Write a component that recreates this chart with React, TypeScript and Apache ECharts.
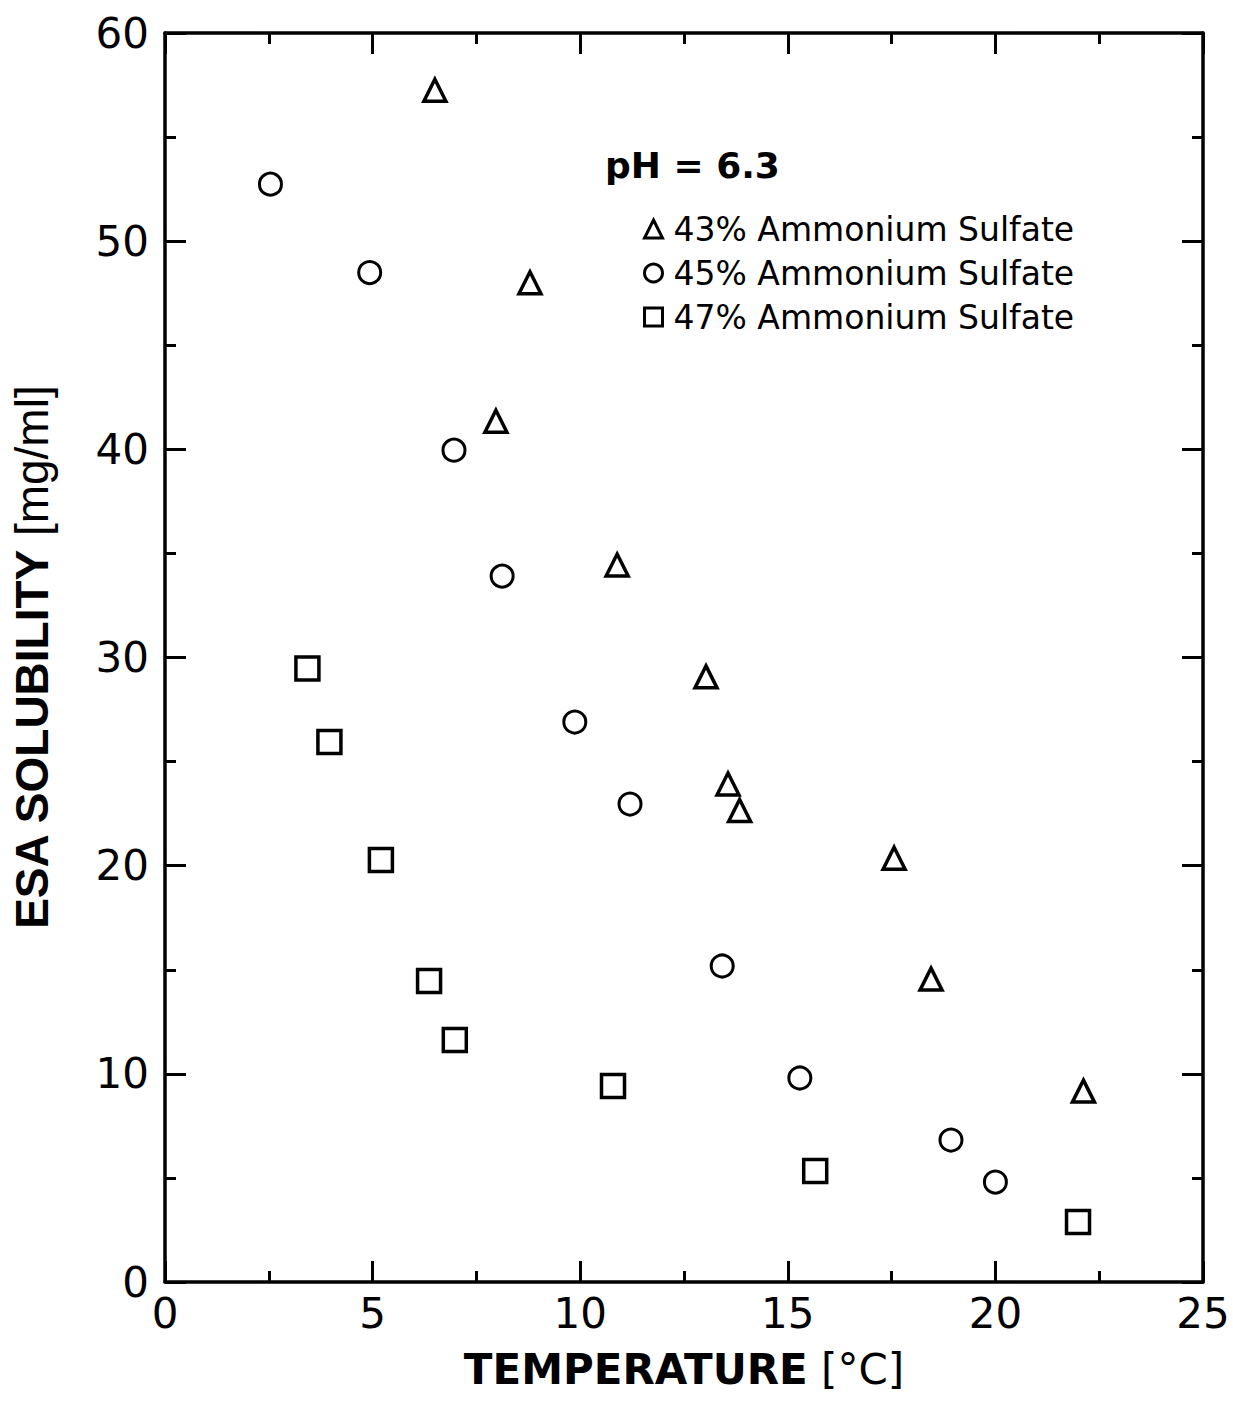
import React, { useEffect, useRef } from "react";
import * as echarts from "echarts";

const tri43X = [6.5, 8.79, 7.97, 10.89, 13.03, 13.56, 13.84, 17.56, 18.45, 22.12];
const tri43Y = [57.25, 48.0, 41.35, 34.44, 29.07, 23.92, 22.65, 20.36, 14.55, 9.17];

const circ45X = [2.54, 4.93, 6.96, 8.12, 9.87, 11.2, 13.42, 15.29, 18.93, 20.0];
const circ45Y = [52.74, 48.49, 39.96, 33.91, 26.9, 22.96, 15.18, 9.8, 6.82, 4.8];

const sq47X = [3.43, 3.96, 5.2, 6.36, 6.98, 10.79, 15.66, 21.99];
const sq47Y = [29.47, 25.94, 20.27, 14.46, 11.62, 9.41, 5.33, 2.88];

const seriesNames = ["43% Ammonium Sulfate", "45% Ammonium Sulfate", "47% Ammonium Sulfate"];
const xTicks = { min: 0, max: 25, interval: 5 };
const yTicks = { min: 0, max: 60, interval: 10 };

const pair = (xs: number[], ys: number[]) => xs.map((x, i) => [x, ys[i]]);

export default function App() {
  const ref = useRef<HTMLDivElement>(null);
  useEffect(() => {
    if (!ref.current) return;
    const chart = echarts.init(ref.current, null, { renderer: "svg" });
    const lineStyle = { color: "#000", width: 3.5 };
    const tickStyle = { color: "#000", width: 3 };
    const baseAxis = (extra: any) => ({
      type: "value",
      axisLine: { show: true, onZero: false, lineStyle },
      axisTick: { show: true, inside: true, length: 21, lineStyle: tickStyle },
      minorTick: { show: true, splitNumber: 2, length: 11, lineStyle: tickStyle },
      splitLine: { show: false },
      ...extra,
    });
    const labelStyle = { color: "#000", fontFamily: "DejaVu Sans", fontSize: 42 };
    const markerStyle = (w: number) => ({ color: "#fff", borderColor: "#000", borderWidth: w, opacity: 1 });
    chart.setOption({
      animation: false,
      backgroundColor: "#fff",
      grid: { left: 165, right: 30, top: 33, bottom: 126, containLabel: false },
      xAxis: [
        baseAxis({
          position: "bottom",
          ...xTicks,
          axisLabel: { ...labelStyle, margin: 10 },
          name: "{b|TEMPERATURE}{r| [°C]}",
          nameLocation: "middle",
          nameGap: 66,
          nameTextStyle: {
            rich: {
              b: { fontFamily: "DejaVu Sans", fontWeight: "bold", fontSize: 42, color: "#000" },
              r: { fontFamily: "DejaVu Sans", fontSize: 42, color: "#000" },
            },
          },
        }),
        baseAxis({ position: "top", ...xTicks, axisLabel: { show: false } }),
      ],
      yAxis: [
        baseAxis({
          position: "left",
          ...yTicks,
          axisLabel: { ...labelStyle, margin: 16 },
          name: "{b|ESA SOLUBILITY}{r| [mg/ml]}",
          nameLocation: "middle",
          nameGap: 110,
          nameRotate: 90,
          nameTextStyle: {
            rich: {
              b: { fontFamily: "Liberation Sans", fontWeight: "bold", fontSize: 46, color: "#000" },
              r: { fontFamily: "Liberation Sans", fontSize: 46, color: "#000" },
            },
          },
        }),
        baseAxis({ position: "right", ...yTicks, axisLabel: { show: false } }),
      ],
      legend: {
        orient: "vertical",
        left: 643,
        top: 212,
        padding: 0,
        itemWidth: 18,
        itemHeight: 18,
        itemGap: 10,
        textStyle: {
          color: "#000",
          fontFamily: "DejaVu Sans",
          fontSize: 33,
          lineHeight: 34,
          padding: [0, 0, 0, 6],
        },
        itemStyle: { color: "#fff", borderColor: "#000", borderWidth: 3, opacity: 1 },
        data: [
          { name: seriesNames[0], icon: "triangle" },
          { name: seriesNames[1], icon: "circle" },
          { name: seriesNames[2], icon: "rect" },
        ],
      },
      graphic: [
        {
          type: "text",
          left: 605,
          top: 147,
          style: {
            text: "pH = 6.3",
            fontFamily: "DejaVu Sans",
            fontWeight: "bold",
            fontSize: 36,
            fill: "#000",
          },
        },
      ],
      series: [
        {
          name: seriesNames[0],
          type: "scatter",
          symbol: "triangle",
          symbolSize: 22,
          itemStyle: markerStyle(3.5),
          data: pair(tri43X, tri43Y),
        },
        {
          name: seriesNames[1],
          type: "scatter",
          symbol: "circle",
          symbolSize: 22,
          itemStyle: markerStyle(3),
          data: pair(circ45X, circ45Y),
        },
        {
          name: seriesNames[2],
          type: "scatter",
          symbol: "rect",
          symbolSize: 23,
          itemStyle: markerStyle(3.5),
          data: pair(sq47X, sq47Y),
        },
      ],
    });
    return () => chart.dispose();
  }, []);
  return (
    <div
      ref={ref}
      style={{ position: "absolute", left: 0, top: 0, width: 1233, height: 1408, background: "#fff" }}
    />
  );
}
